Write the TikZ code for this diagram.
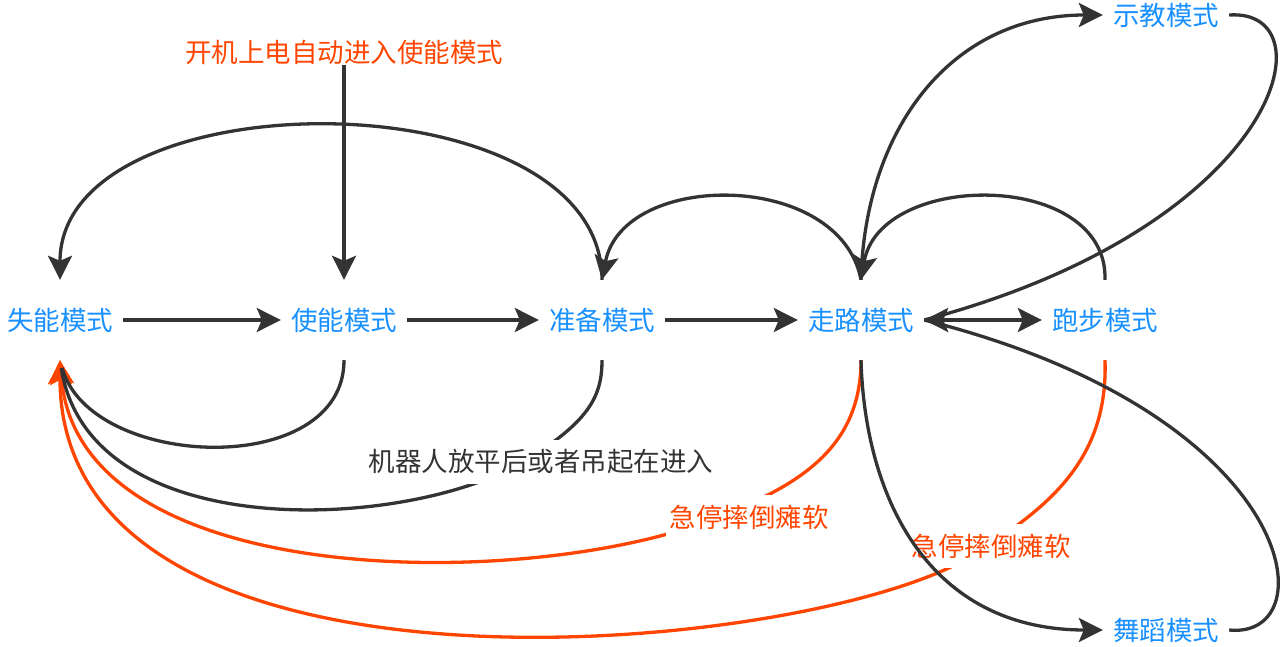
\documentclass[tikz,border=0pt]{standalone}
\usepackage{fontspec}
\newfontfamily\cjk{Noto Sans CJK SC}
\usetikzlibrary{arrows.meta}
\definecolor{ink}{HTML}{333333}
\definecolor{modeblue}{HTML}{1890FF}
\definecolor{alert}{HTML}{FF4500}
\begin{document}
\begin{tikzpicture}[x=1pt,y=-1pt,
  mode/.style={text=modeblue, font=\cjk\fontsize{26.5}{30}\selectfont, minimum width=126pt, minimum height=80pt, inner sep=0pt},
  note/.style={font=\cjk\fontsize{26.5}{30}\selectfont, inner xsep=4pt, inner ysep=10pt, fill=white},
  conn/.style={draw=ink, line width=3.3pt},
  alertline/.style={draw=alert, line width=3.3pt},
  arr/.style={-{Stealth[length=24pt,width=24pt,inset=5pt]}},
  biarr/.style={{Stealth[length=24pt,width=24pt,inset=5pt]}-{Stealth[length=24pt,width=24pt,inset=5pt]}}
]
\useasboundingbox (0,0) rectangle (1280,647);

% mode nodes
\node[mode] (sn) at (60,320) {失能模式};
\node[mode] (en) at (344,320) {使能模式};
\node[mode] (pn) at (602,320) {准备模式};
\node[mode] (wn) at (861,320) {走路模式};
\node[mode] (rn) at (1105,320) {跑步模式};
\node[mode] (tn) at (1166,15) {示教模式};
\node[mode] (dn) at (1166,630) {舞蹈模式};

\node[font=\cjk\fontsize{26.5}{30}\selectfont, text=alert, inner sep=1pt] (start) at (344,52) {开机上电自动进入使能模式};

% waypoints through the labels
\coordinate (c1) at (531,457);
\coordinate (c2) at (730,512);
\coordinate (c3) at (985,547);

% orange emergency transitions
\draw[alertline,arr] (wn.south) .. controls (861,440) and (810,480) .. (c2)
  .. controls (560,590) and (80,600) .. (sn.south);
\draw[alertline,arr] (rn.south) .. controls (1108,450) and (1060,500) .. (c3)
  .. controls (850,652) and (60,735) .. (sn.south);

% black transitions into 失能 from below
\draw[conn,shorten >=8pt] (en.south) .. controls (344,480) and (90,470) .. (sn.south);
\draw[conn,shorten >=8pt] (pn.south) .. controls (602,395) and (590,420) .. (c1)
  .. controls (420,530) and (90,550) .. (sn.south);

% labels on curves
\node[note, text=ink] (lab1) at (541,462) {机器人放平后或者吊起在进入};
\node[note, text=alert] (lab2) at (749,517) {急停摔倒瘫软};
\node[note, text=alert] (lab3) at (991,546) {急停摔倒瘫软};

% straight transitions
\draw[conn,arr] (sn.east) -- (en.west);
\draw[conn,arr] (en.east) -- (pn.west);
\draw[conn,arr] (pn.east) -- (wn.west);
\draw[conn,biarr] (wn.east) -- (rn.west);

% top arcs
\draw[conn,arr] (pn.north) .. controls +(0,-205) and +(0,-205) .. (sn.north);
\draw[conn,arr] (start.south) -- (en.north);
\draw[conn,arr] (wn.north) .. controls (840,170) and (623,170) .. (pn.north);
\draw[conn,arr] (rn.north) .. controls (1108,170) and (880,170) .. (wn.north);

% teach / dance loops
\draw[conn,arr] (wn.north) .. controls (865,130) and (950,15) .. (tn.west);
\draw[conn] (tn.east) .. controls (1332,8) and (1282,225) .. (wn.east);
\draw[conn,arr] (wn.south) .. controls (865,500) and (930,630) .. (dn.west);
\draw[conn] (dn.east) .. controls (1328,640) and (1302,415) .. (wn.east);
\end{tikzpicture}
\end{document}
